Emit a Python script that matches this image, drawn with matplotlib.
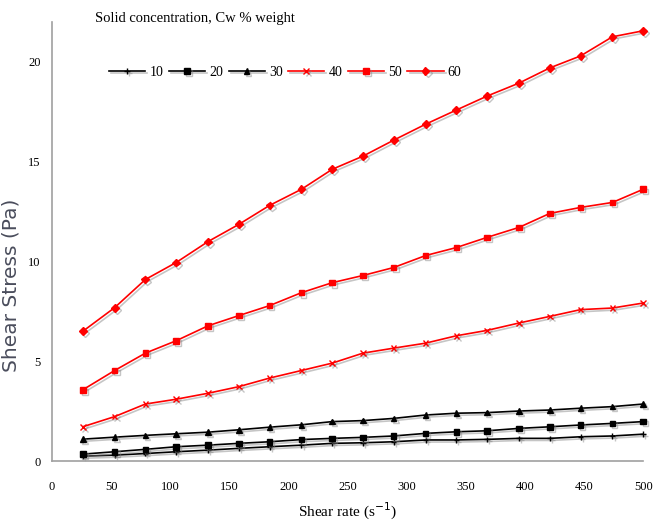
import numpy as np
import matplotlib
matplotlib.use("Agg")
import matplotlib.pyplot as plt
import matplotlib.patheffects as pe

# shear rate (s^-1)
shear_rate = [26, 53, 79, 105, 132, 158, 184, 211, 237, 263,
              289, 316, 342, 368, 395, 421, 447, 474, 500]

# shear stress (Pa) per solid concentration
cw10 = [0.25, 0.30, 0.38, 0.47, 0.55, 0.64, 0.72, 0.80, 0.89, 0.92,
        0.97, 1.06, 1.06, 1.09, 1.14, 1.14, 1.22, 1.26, 1.35]
cw20 = [0.35, 0.47, 0.59, 0.72, 0.80, 0.89, 0.97, 1.08, 1.14, 1.19,
        1.26, 1.39, 1.47, 1.52, 1.64, 1.72, 1.81, 1.89, 1.98]
cw30 = [1.10, 1.20, 1.29, 1.37, 1.45, 1.57, 1.70, 1.82, 1.98, 2.03,
        2.14, 2.31, 2.40, 2.43, 2.51, 2.56, 2.65, 2.73, 2.86]
cw40 = [1.72, 2.23, 2.86, 3.10, 3.40, 3.73, 4.16, 4.54, 4.91, 5.41,
        5.66, 5.91, 6.28, 6.55, 6.92, 7.25, 7.59, 7.67, 7.92]
cw50 = [3.57, 4.54, 5.41, 6.03, 6.78, 7.29, 7.79, 8.44, 8.94, 9.30,
        9.70, 10.30, 10.70, 11.21, 11.71, 12.41, 12.71, 12.96, 13.62]
cw60 = [6.50, 7.69, 9.10, 9.95, 11.00, 11.86, 12.81, 13.62, 14.62, 15.28,
        16.08, 16.88, 17.59, 18.29, 18.94, 19.70, 20.30, 21.26, 21.56]

series = [("10", cw10, "black", "+"), ("20", cw20, "black", "s"),
          ("30", cw30, "black", "^"), ("40", cw40, "red", "x"),
          ("50", cw50, "red", "s"), ("60", cw60, "red", "D")]

fig = plt.figure(figsize=(6.53, 5.24), dpi=100)
ax = fig.add_axes([0.0796, 0.120, 0.9054, 0.838])

shadow = [pe.SimpleLineShadow(offset=(1.5, -1.5), shadow_color="gray", alpha=0.45),
          pe.Normal()]
for name, vals, col, mk in series:
    ax.plot(shear_rate, vals, color=col, marker=mk, markersize=4, linewidth=1.2,
            label=name, clip_on=False, path_effects=shadow)

ax.set_xlim(0, 500)
ax.set_ylim(0, 22)
ax.set_xticks(np.arange(0, 501, 50))
ax.set_yticks([0, 5, 10, 15, 20])
for s in ["top", "right"]:
    ax.spines[s].set_visible(False)
for s in ["left", "bottom"]:
    ax.spines[s].set_color("#a0a0a0")
    ax.spines[s].set_linewidth(1.2)
ax.tick_params(axis="x", length=0, pad=14, labelsize=9)
ax.tick_params(axis="y", length=0, pad=8, labelsize=9)
for lab in ax.get_xticklabels() + ax.get_yticklabels():
    lab.set_family("Liberation Serif")

ax.set_xlabel("Shear rate (s$^{-1}$)", family="Liberation Serif", fontsize=11, labelpad=6)
ax.set_ylabel("Shear Stress (Pa)", family="DejaVu Sans", fontsize=14.5, color="#4a4d5c")
ax.yaxis.set_label_coords(-0.054, 0.40)

fig.text(0.145, 0.965, "Solid concentration, Cw % weight", family="Liberation Serif",
         fontsize=10.5, va="center")
ax.legend(loc="center left", bbox_to_anchor=(0.148, 0.862), bbox_transform=fig.transFigure,
          ncol=6, frameon=False, handlelength=2.6, handletextpad=0.3,
          columnspacing=0.4, prop={"family": "Liberation Serif", "size": 10})

fig.savefig("out.png", dpi=100)
